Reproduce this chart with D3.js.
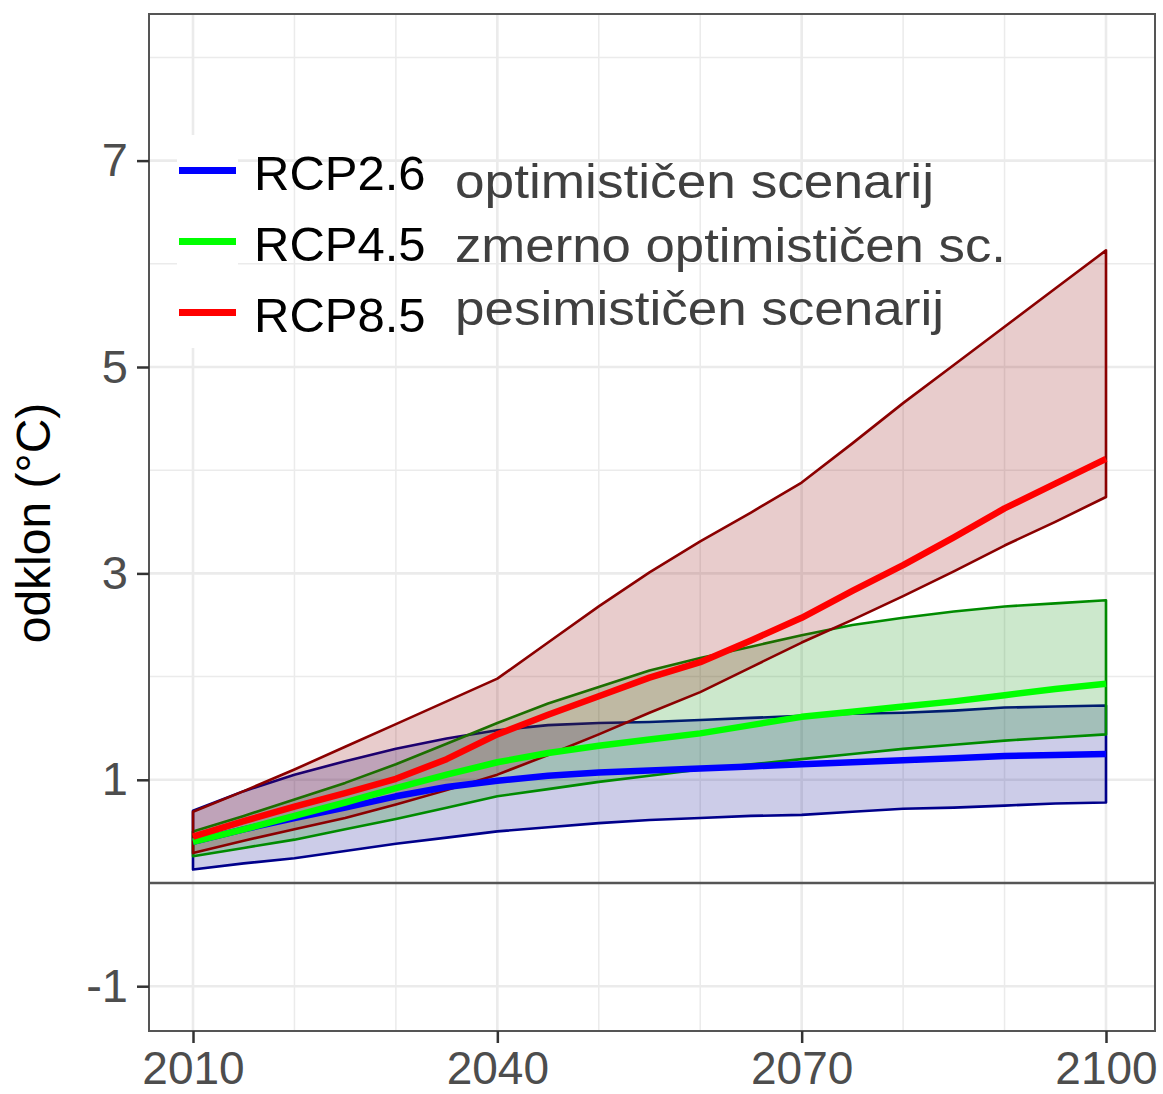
<!DOCTYPE html>
<html>
<head>
<meta charset="utf-8">
<script src="https://cdn.jsdelivr.net/npm/d3@7"></script>
<style>
  html, body { margin: 0; padding: 0; background: #fff; }
  svg { display: block; }
  text { font-family: "Liberation Sans", Arial, sans-serif; }
</style>
</head>
<body>
<svg id="chart" width="1163" height="1094"></svg>
<script>
// ---------------- data ----------------
const years = [2010, 2015, 2020, 2025, 2030, 2035, 2040, 2045, 2050, 2055, 2060, 2065, 2070, 2075, 2080, 2085, 2090, 2095, 2100];

const rcp26Low  = [0.13, 0.19, 0.24, 0.31, 0.38, 0.44, 0.50, 0.54, 0.58, 0.61, 0.63, 0.65, 0.66, 0.69, 0.72, 0.73, 0.75, 0.77, 0.78];
const rcp26Mean = [0.40, 0.52, 0.63, 0.73, 0.84, 0.93, 0.99, 1.04, 1.07, 1.09, 1.11, 1.13, 1.15, 1.17, 1.19, 1.21, 1.23, 1.24, 1.25];
const rcp26High = [0.70, 0.89, 1.05, 1.18, 1.30, 1.40, 1.48, 1.53, 1.55, 1.56, 1.58, 1.60, 1.62, 1.64, 1.65, 1.67, 1.70, 1.71, 1.72];

const rcp45Low  = [0.26, 0.34, 0.42, 0.52, 0.62, 0.73, 0.84, 0.91, 0.98, 1.04, 1.10, 1.15, 1.20, 1.25, 1.30, 1.34, 1.38, 1.41, 1.44];
const rcp45Mean = [0.40, 0.52, 0.65, 0.78, 0.92, 1.05, 1.17, 1.26, 1.33, 1.39, 1.45, 1.53, 1.61, 1.66, 1.71, 1.76, 1.82, 1.88, 1.93];
const rcp45High = [0.50, 0.65, 0.81, 0.97, 1.15, 1.35, 1.55, 1.74, 1.90, 2.06, 2.18, 2.29, 2.40, 2.50, 2.57, 2.63, 2.68, 2.71, 2.74];

const rcp85Low  = [0.29, 0.41, 0.52, 0.63, 0.76, 0.90, 1.05, 1.24, 1.44, 1.65, 1.85, 2.09, 2.33, 2.55, 2.78, 3.02, 3.27, 3.50, 3.74];
const rcp85Mean = [0.45, 0.60, 0.74, 0.87, 1.01, 1.20, 1.44, 1.63, 1.81, 1.99, 2.14, 2.35, 2.57, 2.83, 3.08, 3.35, 3.63, 3.87, 4.11];
const rcp85High = [0.69, 0.89, 1.10, 1.32, 1.54, 1.76, 1.98, 2.33, 2.68, 3.01, 3.31, 3.59, 3.88, 4.26, 4.65, 5.02, 5.39, 5.76, 6.13];

const scenarioNames = ["RCP2.6", "RCP4.5", "RCP8.5"];
const annotationLabels = ["optimističen scenarij", "zmerno optimističen sc.", "pesimističen scenarij"];
const lineColors = ["#0000FF", "#00FF00", "#FF0000"];
const ribbonColors = ["#00008B", "#008B00", "#8B0000"];

const xTickValues = [2010, 2040, 2070, 2100];
const xMinorValues = [2020, 2030, 2050, 2060, 2080, 2090];
const yTickValues = [-1, 1, 3, 5, 7];
const yMinorValues = [0, 2, 4, 6, 8];
const yAxisTitle = "odklon (°C)";

// ---------------- layout ----------------
const svg = d3.select("#chart");
const panel = { left: 149, right: 1155, top: 14, bottom: 1031 };

const x = d3.scaleLinear().domain([2010, 2100]).range([193, 1106]);
const y = d3.scaleLinear().domain([0, 7]).range([883, 160.6]);

const series = [
  { lo: rcp26Low, mean: rcp26Mean, hi: rcp26High },
  { lo: rcp45Low, mean: rcp45Mean, hi: rcp45High },
  { lo: rcp85Low, mean: rcp85Mean, hi: rcp85High }
].map((s, i) => ({
  name: scenarioNames[i],
  line: lineColors[i],
  ribbon: ribbonColors[i],
  pts: years.map((yr, j) => ({ year: yr, lo: s.lo[j], mean: s.mean[j], hi: s.hi[j] }))
}));

// clip
svg.append("defs").append("clipPath").attr("id", "clip")
  .append("rect")
  .attr("x", panel.left).attr("y", panel.top)
  .attr("width", panel.right - panel.left).attr("height", panel.bottom - panel.top);

// panel background
svg.append("rect")
  .attr("x", panel.left).attr("y", panel.top)
  .attr("width", panel.right - panel.left).attr("height", panel.bottom - panel.top)
  .attr("fill", "#fff");

const grid = svg.append("g").attr("clip-path", "url(#clip)");
// minor grid
grid.selectAll(".vmin").data(xMinorValues).join("line")
  .attr("x1", d => x(d)).attr("x2", d => x(d))
  .attr("y1", panel.top).attr("y2", panel.bottom)
  .attr("stroke", "#EBEBEB").attr("stroke-width", 1.5);
grid.selectAll(".hmin").data(yMinorValues).join("line")
  .attr("y1", d => y(d)).attr("y2", d => y(d))
  .attr("x1", panel.left).attr("x2", panel.right)
  .attr("stroke", "#EBEBEB").attr("stroke-width", 1.5);
// major grid
grid.selectAll(".vmaj").data(xTickValues).join("line")
  .attr("x1", d => x(d)).attr("x2", d => x(d))
  .attr("y1", panel.top).attr("y2", panel.bottom)
  .attr("stroke", "#EBEBEB").attr("stroke-width", 2.6);
grid.selectAll(".hmaj").data(yTickValues).join("line")
  .attr("y1", d => y(d)).attr("y2", d => y(d))
  .attr("x1", panel.left).attr("x2", panel.right)
  .attr("stroke", "#EBEBEB").attr("stroke-width", 2.6);

// horizontal reference line at 0
svg.append("line")
  .attr("x1", panel.left).attr("x2", panel.right)
  .attr("y1", y(0)).attr("y2", y(0))
  .attr("stroke", "#555").attr("stroke-width", 2.4);

// ribbons + mean lines
const area = d3.area().x(d => x(d.year)).y0(d => y(d.lo)).y1(d => y(d.hi));
const line = d3.line().x(d => x(d.year)).y(d => y(d.mean));
const plot = svg.append("g").attr("clip-path", "url(#clip)");
series.forEach(s => {
  plot.append("path").datum(s.pts)
    .attr("d", area)
    .attr("fill", s.ribbon).attr("fill-opacity", 0.2)
    .attr("stroke", s.ribbon).attr("stroke-width", 2.6)
    .attr("stroke-linejoin", "round");
});
series.forEach(s => {
  plot.append("path").datum(s.pts)
    .attr("d", line)
    .attr("fill", "none")
    .attr("stroke", s.line).attr("stroke-width", 6.5)
    .attr("stroke-linejoin", "round");
});

// panel border
svg.append("rect")
  .attr("x", panel.left).attr("y", panel.top)
  .attr("width", panel.right - panel.left).attr("height", panel.bottom - panel.top)
  .attr("fill", "none").attr("stroke", "#555").attr("stroke-width", 2);

// axes
const xAxis = d3.axisBottom(x).tickValues(xTickValues).tickFormat(d3.format("d"))
  .tickSize(12).tickPadding(8);
const gx = svg.append("g").attr("transform", `translate(0,${panel.bottom})`).call(xAxis);
gx.select(".domain").remove();
gx.selectAll(".tick line").attr("stroke", "#333").attr("stroke-width", 2.5);
gx.selectAll(".tick text").attr("fill", "#4D4D4D").attr("font-size", 46)
  .attr("font-family", "'Liberation Sans', Arial, sans-serif");

const yAxis = d3.axisLeft(y).tickValues(yTickValues).tickFormat(d3.format("d"))
  .tickSize(12).tickPadding(9);
const gy = svg.append("g").attr("transform", `translate(${panel.left},0)`).call(yAxis);
gy.select(".domain").remove();
gy.selectAll(".tick line").attr("stroke", "#333").attr("stroke-width", 2.5);
gy.selectAll(".tick text").attr("fill", "#4D4D4D").attr("font-size", 47)
  .attr("font-family", "'Liberation Sans', Arial, sans-serif")
  .text(d => d < 0 ? "-" + Math.abs(d) : String(d));

// y axis title
svg.append("text")
  .attr("transform", "translate(50,523) rotate(-90)")
  .attr("text-anchor", "middle")
  .attr("font-size", 48)
  .attr("fill", "#000")
  .text(yAxisTitle);

// legend
const legend = svg.append("g");
const keyX0 = 177, keyX1 = 238, rowTop = 135, rowH = 71;
legend.append("rect")
  .attr("x", keyX0).attr("y", rowTop)
  .attr("width", keyX1 - keyX0).attr("height", rowH * scenarioNames.length)
  .attr("fill", "#fff");
scenarioNames.forEach((name, i) => {
  const cy = rowTop + rowH * i + 35.5;
  legend.append("line")
    .attr("x1", keyX0 + 2).attr("x2", keyX1 - 2)
    .attr("y1", cy).attr("y2", cy)
    .attr("stroke", lineColors[i]).attr("stroke-width", 7);
  legend.append("text")
    .attr("x", 254).attr("y", cy + 19)
    .attr("font-size", 49).attr("fill", "#000")
    .text(name);
});

// annotations
const annWidths = [479, 551, 489];
annotationLabels.forEach((t, i) => {
  svg.append("text")
    .attr("x", 455).attr("y", 198 + i * 63.5)
    .attr("font-size", 49).attr("fill", "#404040")
    .attr("textLength", annWidths[i]).attr("lengthAdjust", "spacingAndGlyphs")
    .text(t);
});
</script>
</body>
</html>
